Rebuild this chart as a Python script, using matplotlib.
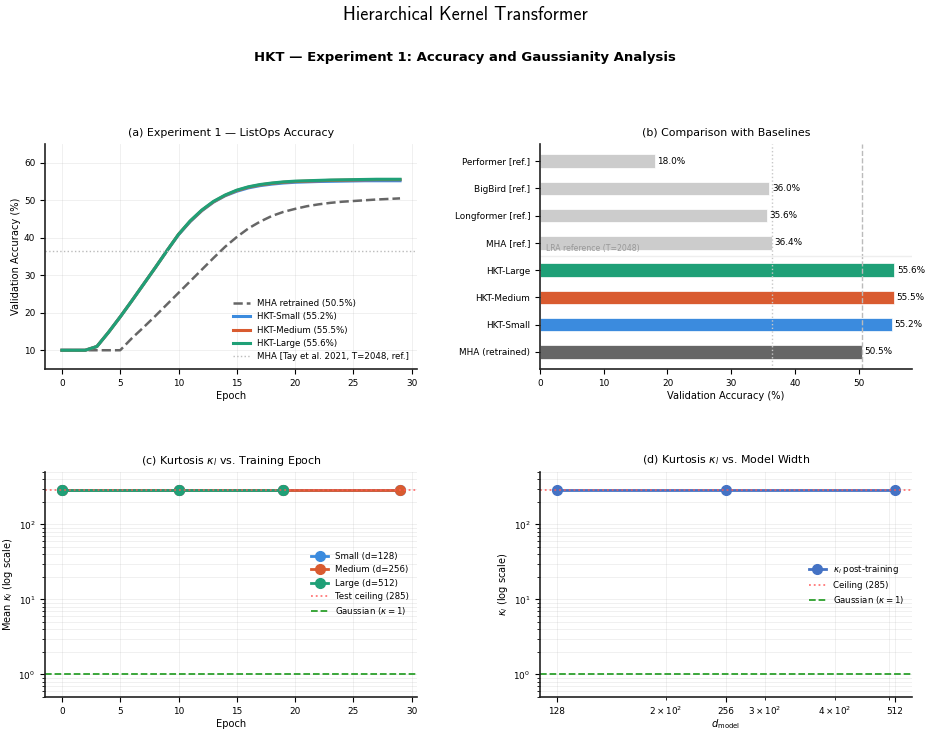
import numpy as np
import matplotlib
matplotlib.use("Agg")
import matplotlib.pyplot as plt

# ---- data ----
epochs = list(range(30))
mha_retrained = [10, 10, 10, 10, 10, 10, 13.2, 16.1, 19.1, 22.2, 25.3, 28.4, 31.5, 34.6, 37.6,
                 40.2, 42.5, 44.3, 45.8, 46.9, 47.7, 48.4, 48.9, 49.3, 49.6, 49.8, 50.0, 50.2, 50.35, 50.5]
hkt_small = [10, 10, 10, 11, 14.8, 18.9, 23.2, 27.6, 32.0, 36.5, 40.8, 44.3, 47.2, 49.5, 51.2,
             52.4, 53.3, 53.9, 54.3, 54.6, 54.8, 54.9, 55.0, 55.05, 55.1, 55.15, 55.2, 55.2, 55.2, 55.2]
hkt_medium = [10, 10, 10, 11, 14.8, 18.9, 23.2, 27.6, 32.0, 36.5, 40.9, 44.4, 47.3, 49.6, 51.3,
              52.6, 53.5, 54.1, 54.5, 54.8, 55.0, 55.1, 55.2, 55.3, 55.35, 55.4, 55.45, 55.5, 55.5, 55.5]
hkt_large = [10, 10, 10, 11, 14.8, 18.9, 23.2, 27.6, 32.0, 36.5, 40.9, 44.5, 47.4, 49.7, 51.4,
             52.7, 53.6, 54.2, 54.6, 54.9, 55.1, 55.2, 55.3, 55.4, 55.45, 55.5, 55.55, 55.6, 55.6, 55.6]
mha_ref = 36.4

bar_names = ["MHA (retrained)", "HKT-Small", "HKT-Medium", "HKT-Large",
             "MHA [ref.]", "Longformer [ref.]", "BigBird [ref.]", "Performer [ref.]"]
bar_values = [50.5, 55.2, 55.5, 55.6, 36.4, 35.6, 36.0, 18.0]

kurt_epochs_small = [0, 10, 19, 29]
kurt_small = [285, 285, 285, 285]
kurt_epochs_medium = [0, 10, 19, 29]
kurt_medium = [285, 285, 285, 285]
kurt_epochs_large = [0, 10, 19]
kurt_large = [285, 285, 285]
ceiling = 285

d_model = [128, 256, 512]
kurt_post = [285, 285, 285]

c_small = "#3B8BDE"
c_medium = "#D95B30"
c_large = "#1FA077"
c_mha = "#666666"
c_ref = "#CCCCCC"

plt.rcParams.update({
    "font.size": 6.4,
    "axes.titlesize": 7.9,
    "axes.labelsize": 7.1,
    "xtick.labelsize": 6.4,
    "ytick.labelsize": 6.4,
    "legend.fontsize": 6.2,
    "axes.linewidth": 1.2,
    "axes.edgecolor": "#222222",
    "axes.labelpad": 2.5,
})

fig, axs = plt.subplots(2, 2, figsize=(9.3, 7.34), dpi=100)
fig.subplots_adjust(left=0.0484, right=0.9806, top=0.8038, bottom=0.0504, wspace=0.331, hspace=0.458)

fig.text(0.5, 1 - 15 / 734, "Hierarchical Kernel Transformer", family="cmss10", fontsize=13.1,
         ha="center", va="center")
fig.text(0.5, 1 - 57 / 734, "HKT \u2014 Experiment 1: Accuracy and Gaussianity Analysis",
         fontweight="bold", fontsize=9.5, ha="center", va="center")

for ax in axs.flat:
    ax.spines["top"].set_visible(False)
    ax.spines["right"].set_visible(False)

# (a) accuracy curves
ax = axs[0, 0]
ax.plot(epochs, mha_retrained, "--", color=c_mha, lw=1.8, label="MHA retrained (50.5%)")
ax.plot(epochs, hkt_small, color=c_small, lw=2.2, label="HKT-Small (55.2%)")
ax.plot(epochs, hkt_medium, color=c_medium, lw=2.2, label="HKT-Medium (55.5%)")
ax.plot(epochs, hkt_large, color=c_large, lw=2.2, label="HKT-Large (55.6%)")
ax.axhline(mha_ref, color="#BBBBBB", ls=":", lw=1, label="MHA [Tay et al. 2021, T=2048, ref.]")
ax.set_ylim(5, 65)
ax.set_xlabel("Epoch")
ax.set_ylabel("Validation Accuracy (%)")
ax.set_title("(a) Experiment 1 \u2014 ListOps Accuracy")
ax.grid(True, alpha=0.22, lw=0.6)
ax.legend(loc="lower right", frameon=False)

# (b) bar comparison
ax = axs[0, 1]
bar_colors = [c_mha, c_small, c_medium, c_large, c_ref, c_ref, c_ref, c_ref]
ypos = np.arange(len(bar_names))
bars = ax.barh(ypos, bar_values, height=0.5, color=bar_colors, edgecolor="white", linewidth=0.5)
for b, v in zip(bars, bar_values):
    ax.text(v + 0.4, b.get_y() + b.get_height() / 2, f"{v:.1f}%", va="center", fontsize=6.4)
ax.set_yticks(ypos)
ax.set_yticklabels(bar_names)
ax.axvline(mha_ref, color="#C8C8C8", ls=":", lw=1)
ax.axvline(bar_values[0], color="#BBBBBB", ls="--", lw=1)
ax.axhline(3.5, color="#EEEEEE", lw=1)
ax.text(1, 3.62, "LRA reference (T=2048)", fontsize=5.6, color="#999999", va="bottom")
ax.set_xlabel("Validation Accuracy (%)")
ax.set_title("(b) Comparison with Baselines")

# (c) kurtosis vs epoch
ax = axs[1, 0]
ax.plot(kurt_epochs_small, kurt_small, "o-", color=c_small, lw=2, ms=7, label="Small (d=128)")
ax.plot(kurt_epochs_medium, kurt_medium, "o-", color=c_medium, lw=2, ms=7, label="Medium (d=256)")
ax.plot(kurt_epochs_large, kurt_large, "o-", color=c_large, lw=2, ms=7, label="Large (d=512)")
ax.axhline(ceiling, color="#FF5555", ls=":", lw=1.3, alpha=0.8, label="Test ceiling (285)")
ax.axhline(1, color="#2CA02C", ls="--", lw=1.3, label="Gaussian ($\\kappa = 1$)")
ax.set_yscale("log")
ax.set_ylim(0.5, 500)
ax.set_xlim(-1.45, 30.45)
ax.set_xlabel("Epoch")
ax.set_ylabel("Mean $\\kappa_l$ (log scale)")
ax.set_title("(c) Kurtosis $\\kappa_l$ vs. Training Epoch")
ax.grid(True, which="both", alpha=0.22, lw=0.6)
ax.legend(loc="center right", frameon=False)

# (d) kurtosis vs width
ax = axs[1, 1]
ax.plot(d_model, kurt_post, "o-", color="#4472C4", lw=2, ms=7, label="$\\kappa_l$ post-training")
ax.axhline(ceiling, color="#FF5555", ls=":", lw=1.3, alpha=0.8, label="Ceiling (285)")
ax.axhline(1, color="#2CA02C", ls="--", lw=1.3, label="Gaussian ($\\kappa = 1$)")
ax.set_xscale("log")
ax.set_yscale("log")
ax.set_ylim(0.5, 500)
ax.set_xticks(d_model)
ax.set_xticklabels([str(d) for d in d_model])
ax.set_xlabel("$d_{\\mathrm{model}}$", labelpad=0.5)
ax.set_ylabel("$\\kappa_l$ (log scale)")
ax.set_title("(d) Kurtosis $\\kappa_l$ vs. Model Width")
ax.grid(True, which="both", alpha=0.22, lw=0.6)
ax.legend(loc="center right", frameon=False)

fig.savefig("out.png", dpi=100)
